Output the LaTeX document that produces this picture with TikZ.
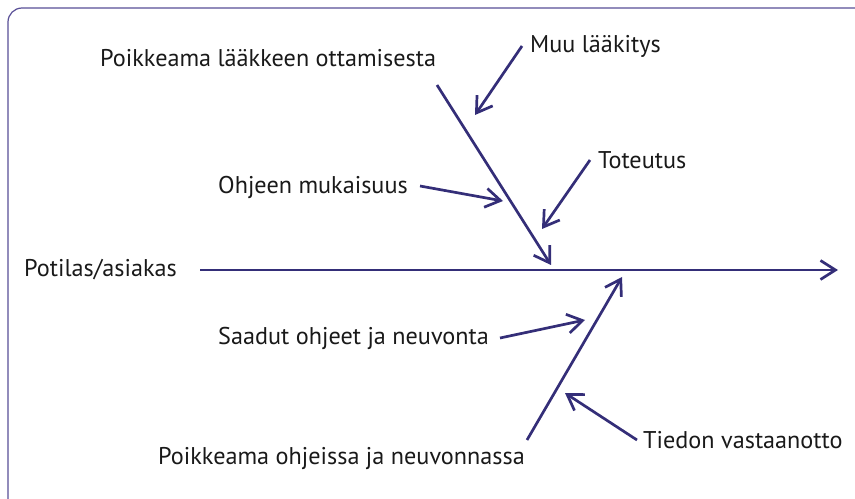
\documentclass[tikz,border=0pt]{standalone}
\usepackage{fontspec}
\setmainfont{PT Sans}
\usetikzlibrary{arrows.meta}
\definecolor{ink}{RGB}{52,46,120}
\definecolor{frame}{RGB}{88,78,150}
\begin{document}
\begin{tikzpicture}[x=1bp,y=-1bp,
  lbl/.style={anchor=west,inner sep=0pt,text=black!90,font=\fontsize{24.3}{28}\selectfont},
  bone/.style={draw=ink,line width=2.7bp,-{Straight Barb[length=15bp,width=19bp,line width=2.7bp]}}]
\useasboundingbox (0,0) rectangle (855,499);
% frame
\draw[frame,line width=1.2bp] (8,499) -- (8,22) arc[start angle=180,end angle=270,radius=14] -- (855,8);
% labels
\node[lbl] (t1) at (100,58) {Poikkeama lääkkeen ottamisesta};
\node[lbl] (t2) at (530,46) {Muu lääkitys};
\node[lbl] (t3) at (218,187) {Ohjeen mukaisuus};
\node[lbl] (t4) at (598,160) {Toteutus};
\node[lbl] (t5) at (24,270) {Potilas/asiakas};
\node[lbl] (t6) at (218,338) {Saadut ohjeet ja neuvonta};
\node[lbl] (t7) at (158,458) {Poikkeama ohjeissa ja neuvonnassa};
\node[lbl] (t8) at (643,440) {Tiedon vastaanotto};
% spine and bones
\coordinate (s0) at (200,270); \coordinate (s1) at (838,270);
\coordinate (u0) at (437,85); \coordinate (u1) at (551,265);
\coordinate (l0) at (527,440); \coordinate (l1) at (622,277);
\coordinate (a0) at (522,46); \coordinate (a1) at (475,115);
\coordinate (b0) at (420,186); \coordinate (b1) at (503,201);
\coordinate (c0) at (590,160); \coordinate (c1) at (542,229);
\coordinate (d0) at (500,338); \coordinate (d1) at (585,320);
\coordinate (e0) at (637,440); \coordinate (e1) at (565,393);
\draw[bone] (s0) -- (s1);
\draw[bone] (u0) -- (u1);
\draw[bone] (l0) -- (l1);
\draw[bone] (a0) -- (a1);
\draw[bone] (b0) -- (b1);
\draw[bone] (c0) -- (c1);
\draw[bone] (d0) -- (d1);
\draw[bone] (e0) -- (e1);
\end{tikzpicture}
\end{document}
